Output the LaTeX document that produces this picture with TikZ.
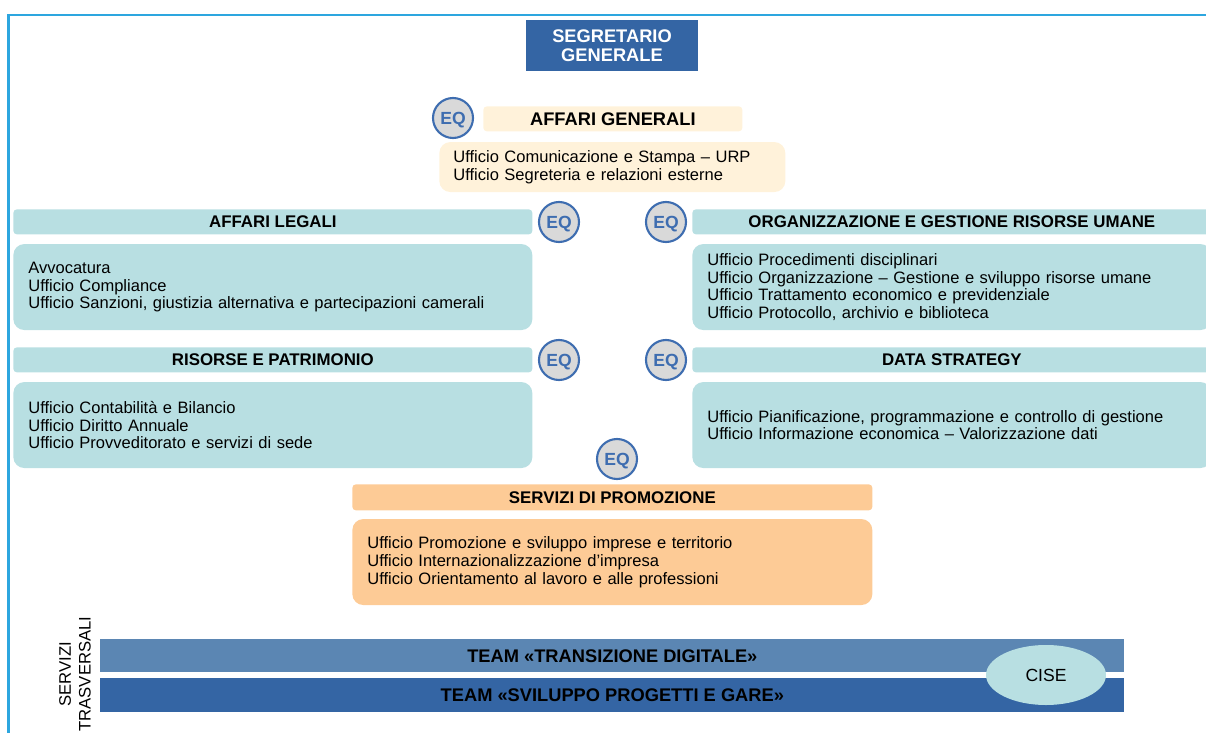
\documentclass[tikz,border=0pt]{standalone}
\usepackage{fontspec}
\setmainfont{Liberation Sans}
\usetikzlibrary{shapes.geometric}

\definecolor{sgblue}{HTML}{3465A4}
\definecolor{midblue}{HTML}{5B86B3}
\definecolor{aqualight}{HTML}{B8DFE2}
\definecolor{cream}{HTML}{FFF2DA}
\definecolor{peach}{HTML}{FDCB96}
\definecolor{eqgray}{HTML}{D9D9D9}
\definecolor{eqblue}{HTML}{3E6DB0}
\definecolor{framecol}{HTML}{2DA6DF}

\begin{document}
\begin{tikzpicture}[
    hdr/.style={anchor=north west,fill=aqualight,rounded corners=2pt,minimum width=10.38cm,minimum height=0.5cm,inner sep=0pt,font=\fontsize{9.6}{11}\selectfont\bfseries},
    uffici/.style={anchor=north west,fill=aqualight,rounded corners=0.22cm,text width=9.78cm,inner xsep=0.3cm,inner ysep=0pt,minimum height=1.72cm,align=left,font=\fontsize{9.4}{10.2}\selectfont},
    eqmark/.style={circle,draw=eqblue,line width=1.2pt,fill=eqgray,minimum size=0.8cm,inner sep=0pt,text depth=0pt,text=eqblue,font=\fontsize{10}{11}\selectfont\bfseries},
    team/.style={anchor=north west,minimum width=20.48cm,inner sep=0pt,font=\fontsize{10.4}{12}\selectfont\bfseries}
]
    \useasboundingbox (0,0) rectangle (24.12,-14.66);
    \clip (0,0) rectangle (24.12,-14.66);
    \draw[framecol,line width=1.4pt] (0.17,-14.8) -- (0.17,-0.30) -- (24.3,-0.30);

    %% Segretario generale
    \node[fill=sgblue,text=white,minimum width=3.44cm,minimum height=1.02cm,align=center,font=\fontsize{10.4}{10.8}\selectfont\bfseries] (SG) at (12.24,-0.91) {SEGRETARIO\\GENERALE};

    %% Affari generali
    \node[hdr,fill=cream,minimum width=5.18cm,font=\fontsize{10.4}{12}\selectfont\bfseries] (AGh) at (9.66,-2.12) {AFFARI GENERALI};
    \node[uffici,fill=cream,text width=6.36cm,inner xsep=0.28cm,minimum height=1.0cm] (AGb) at ([xshift=-0.88cm,yshift=-0.2cm]AGh.south west) {Ufficio Comunicazione e Stampa -- URP\\Ufficio Segreteria e relazioni esterne};
    \node[eqmark] (eqAG) at (9.06,-2.36) {EQ};

    %% Affari legali / Organizzazione
    \node[hdr] (ALh) at (0.26,-4.18) {AFFARI LEGALI};
    \node[uffici] (ALb) at ([yshift=-0.18cm]ALh.south west) {Avvocatura\\Ufficio Compliance\\Ufficio Sanzioni, giustizia alternativa e partecipazioni camerali};
    \node[eqmark] (eqAL) at (11.18,-4.44) {EQ};
    \node[eqmark] (eqOR) at (13.32,-4.44) {EQ};
    \node[hdr] (ORh) at (13.84,-4.18) {ORGANIZZAZIONE E GESTIONE RISORSE UMANE};
    \node[uffici] (ORb) at ([yshift=-0.18cm]ORh.south west) {Ufficio Procedimenti disciplinari\\Ufficio Organizzazione -- Gestione e sviluppo risorse umane\\Ufficio Trattamento economico e previdenziale\\Ufficio Protocollo, archivio e biblioteca};

    %% Risorse e patrimonio / Data strategy
    \node[hdr] (RPh) at (0.26,-6.94) {RISORSE E PATRIMONIO};
    \node[uffici] (RPb) at ([yshift=-0.18cm]RPh.south west) {Ufficio Contabilità e Bilancio\\Ufficio Diritto Annuale\\Ufficio Provveditorato e servizi di sede};
    \node[eqmark] (eqRP) at (11.18,-7.20) {EQ};
    \node[eqmark] (eqDS) at (13.32,-7.20) {EQ};
    \node[hdr] (DSh) at (13.84,-6.94) {DATA STRATEGY};
    \node[uffici] (DSb) at ([yshift=-0.18cm]DSh.south west) {Ufficio Pianificazione, programmazione e controllo di gestione\\Ufficio Informazione economica -- Valorizzazione dati};

    %% Servizi di promozione
    \node[eqmark] (eqSP) at (12.34,-9.18) {EQ};
    \node[hdr,fill=peach,minimum width=10.40cm,minimum height=0.52cm] (SPh) at (7.04,-9.68) {SERVIZI DI PROMOZIONE};
    \node[uffici,fill=peach,text width=9.80cm] (SPb) at ([yshift=-0.16cm]SPh.south west) {Ufficio Promozione e sviluppo imprese e territorio\\Ufficio Internazionalizzazione d’impresa\\Ufficio Orientamento al lavoro e alle professioni};

    %% Servizi trasversali
    \node[rotate=90,align=center,font=\fontsize{9.5}{11.3}\selectfont] (trasv) at (1.50,-13.48) {SERVIZI\\TRASVERSALI};
    \node[team,fill=midblue,minimum height=0.66cm] (TD) at (2.00,-12.78) {TEAM «TRANSIZIONE DIGITALE»};
    \node[team,fill=sgblue,minimum height=0.68cm] (SPG) at ([yshift=-0.1cm]TD.south west) {TEAM «SVILUPPO PROGETTI E GARE»};
    \node[ellipse,fill=aqualight,minimum width=2.4cm,minimum height=1.2cm,font=\fontsize{10}{12}\selectfont] (cise) at (20.92,-13.50) {CISE};
\end{tikzpicture}
\end{document}
